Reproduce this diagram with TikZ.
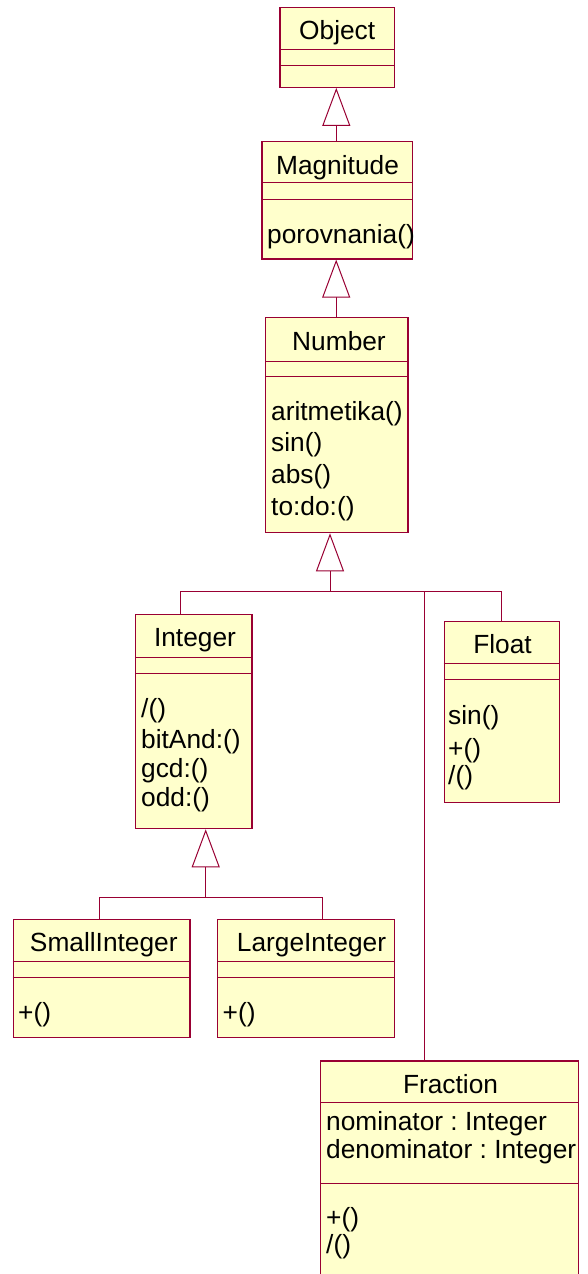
\documentclass[tikz,border=0pt]{standalone}
\usepackage{fontspec}
\setmainfont{Liberation Sans}
\usetikzlibrary{arrows.meta,fit}
\definecolor{umlline}{HTML}{990033}
\definecolor{umlfill}{HTML}{FFFFCC}
\frenchspacing
\begin{document}
\begin{tikzpicture}[x=1pt,y=-1pt,
  cls/.style={draw=umlline, fill=umlfill, line width=1.2pt, inner sep=0pt},
  sepline/.style={draw=umlline, line width=1pt},
  txt/.style={inner sep=0pt, anchor=base west, font=\fontsize{26.3}{30}\selectfont\frenchspacing},
  ttl/.style={inner sep=0pt, anchor=base, font=\fontsize{26.3}{30}\selectfont},
  conn/.style={draw=umlline, line width=1pt},
  gen/.style={conn, -{Triangle[open, length=38pt, width=28pt, fill=white, line width=1pt]}},
]
\useasboundingbox (0,0) rectangle (587,1274);
\clip (0,0) rectangle (587,1274);

% ---- Object
\node[cls, fit={(280,7.3) (394.3,87.3)}] (obj) {};
\draw[sepline] (obj.west |- 0,49.3) -- (obj.east |- 0,49.3);
\draw[sepline] (obj.west |- 0,65.7) -- (obj.east |- 0,65.7);
\node[ttl] (objT) at (337.2,39) {Object};

% ---- Magnitude
\node[cls, fit={(262,141.7) (412.3,259)}] (mag) {};
\draw[sepline] (mag.west |- 0,182.7) -- (mag.east |- 0,182.7);
\draw[sepline] (mag.west |- 0,199.3) -- (mag.east |- 0,199.3);
\node[ttl] (magT) at (337.5,174) {Magnitude};
\node[txt] (magM1) at (267,243.3) {porovnania()};

% ---- Number
\node[cls, fit={(265.7,317.3) (408,532.7)}] (num) {};
\draw[sepline] (num.west |- 0,361) -- (num.east |- 0,361);
\draw[sepline] (num.west |- 0,376.7) -- (num.east |- 0,376.7);
\node[ttl] (numT) at (339,350) {Number};
\node[txt] (numM1) at (271,420) {aritmetika()};
\node[txt] (numM2) at (271,451.7) {sin()};
\node[txt] (numM3) at (271,483.3) {abs()};
\node[txt] (numM4) at (271,515) {to:do:()};

% ---- Integer
\node[cls, fit={(135.7,614.7) (252,828.7)}] (int) {};
\draw[sepline] (int.west |- 0,657.3) -- (int.east |- 0,657.3);
\draw[sepline] (int.west |- 0,673.3) -- (int.east |- 0,673.3);
\node[ttl] (intT) at (195,646.7) {Integer};
\node[txt] (intM1) at (141,717) {/()};
\node[txt] (intM2) at (141,748.3) {bitAnd:()};
\node[txt] (intM3) at (141,777.3) {gcd:()};
\node[txt] (intM4) at (141,806.7) {odd:()};

% ---- Float
\node[cls, fit={(444.3,621.3) (559.3,802.7)}] (flt) {};
\draw[sepline] (flt.west |- 0,663.3) -- (flt.east |- 0,663.3);
\draw[sepline] (flt.west |- 0,679) -- (flt.east |- 0,679);
\node[ttl] (fltT) at (502.5,653.3) {Float};
\node[txt] (fltM1) at (448,724.3) {sin()};
\node[txt] (fltM2) at (448,757) {+()};
\node[txt] (fltM3) at (448,784.5) {/()};

% ---- SmallInteger
\node[cls, fit={(13.3,919.3) (190,1037.3)}] (sml) {};
\draw[sepline] (sml.west |- 0,961.7) -- (sml.east |- 0,961.7);
\draw[sepline] (sml.west |- 0,977.3) -- (sml.east |- 0,977.3);
\node[ttl] (smlT) at (103.8,951.7) {SmallInteger};
\node[txt] (smlM1) at (18,1021) {+()};

% ---- LargeInteger
\node[cls, fit={(217.7,919.3) (394.3,1037.3)}] (lrg) {};
\draw[sepline] (lrg.west |- 0,961.7) -- (lrg.east |- 0,961.7);
\draw[sepline] (lrg.west |- 0,977.3) -- (lrg.east |- 0,977.3);
\node[ttl] (lrgT) at (311.5,951.7) {LargeInteger};
\node[txt] (lrgM1) at (222.5,1021) {+()};

% ---- Fraction
\node[cls, fit={(320.7,1061) (578.3,1300)}] (frc) {};
\draw[sepline] (frc.west |- 0,1102.7) -- (frc.east |- 0,1102.7);
\draw[sepline] (frc.west |- 0,1183.3) -- (frc.east |- 0,1183.3);
\node[ttl] (frcT) at (450.5,1093.3) {Fraction};
\node[txt] (frcA1) at (326,1130) {nominator : Integer};
\node[txt] (frcA2) at (326,1158.3) {denominator : Integer};
\node[txt] (frcM1) at (326,1226) {+()};
\node[txt] (frcM2) at (326,1253) {/()};

% ---- connectors
\draw[gen] (mag.north -| 336.3,0) -- (obj.south -| 336.3,0);
\draw[gen] (num.north -| 336.2,0) -- (mag.south -| 336.2,0);

\coordinate (jNum) at (330,591);
\coordinate (jInt) at (180,591);
\coordinate (jFrc) at (424.5,591);
\coordinate (jFlt) at (flt.north |- 0,591);
\draw[gen] (jNum) -- (num.south -| jNum);
\draw[conn] (jInt) -- (jFlt);
\draw[conn] (jInt) -- (int.north -| jInt);
\draw[conn] (jFrc) -- (frc.north -| jFrc);
\draw[conn] (jFlt) -- (flt.north);

\coordinate (jI) at (205.7,897.3);
\coordinate (jSml) at (99.3,897.3);
\coordinate (jLrg) at (322,897.3);
\draw[gen] (jI) -- (int.south -| jI);
\draw[conn] (jSml) -- (jLrg);
\draw[conn] (jSml) -- (sml.north -| jSml);
\draw[conn] (jLrg) -- (lrg.north -| jLrg);
\end{tikzpicture}
\end{document}
